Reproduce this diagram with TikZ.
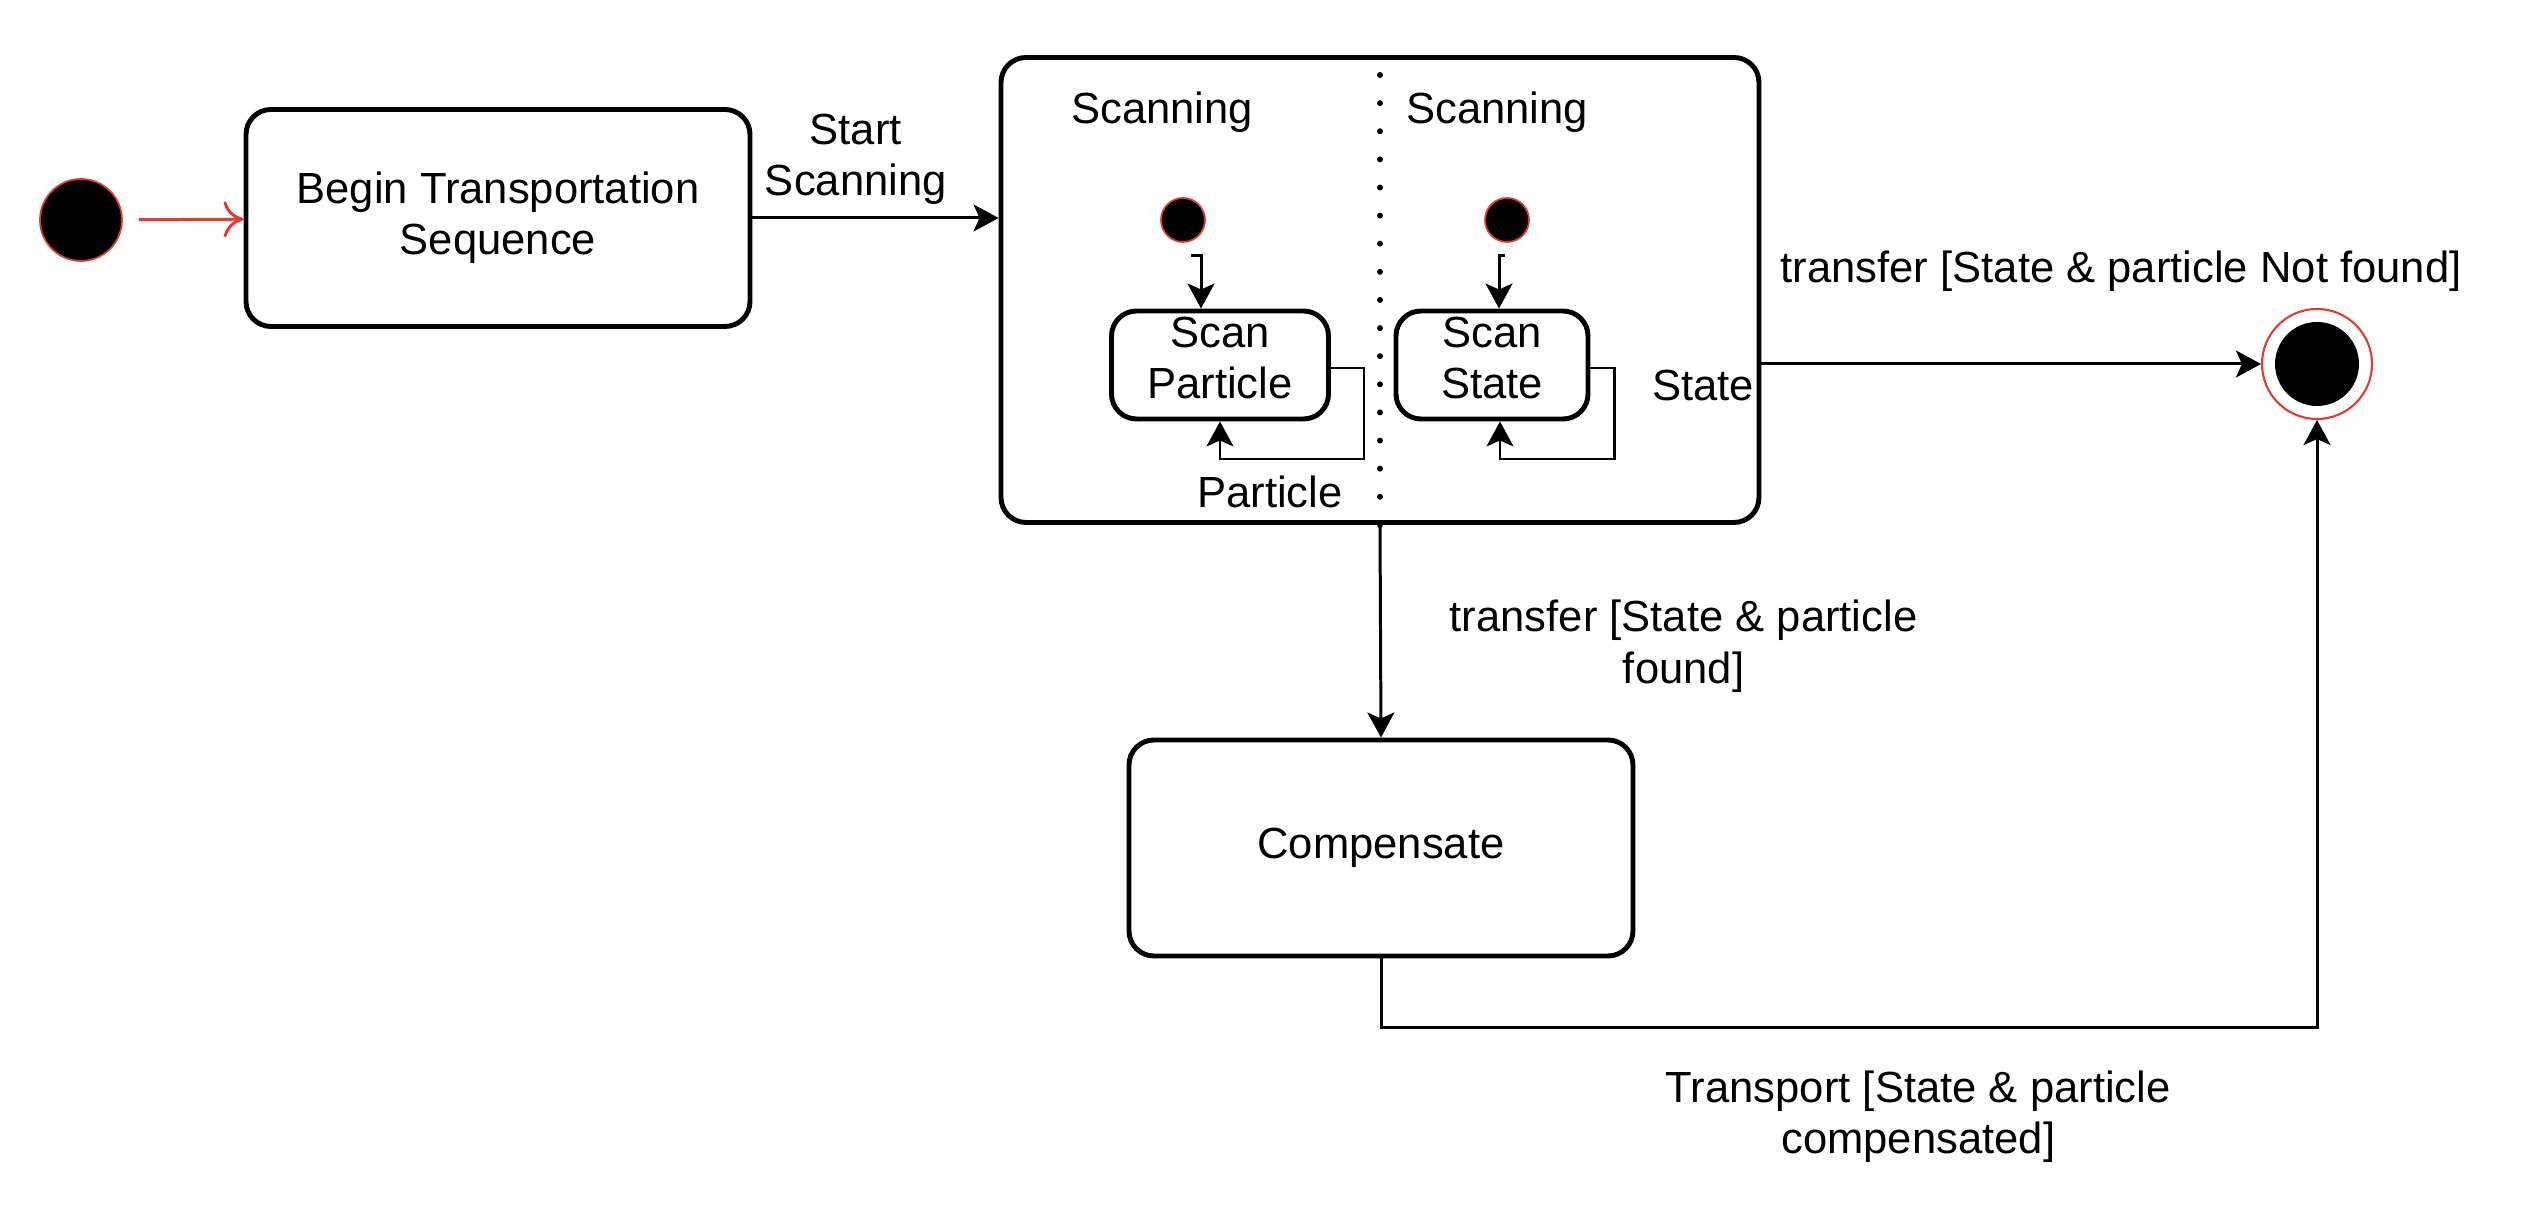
\documentclass[tikz,border=0pt]{standalone}
\usepackage{fontspec}
\setmainfont{Liberation Sans}
\usetikzlibrary{arrows.meta}
\definecolor{umlred}{RGB}{225,60,50}

\begin{document}
\begin{tikzpicture}[auto,
    every node/.style={font=\fontsize{12.4pt}{14.6pt}\selectfont},
    state/.style={draw, line width=1.4pt, rounded corners=0.25cm, align=center},
    start/.style={circle, fill=black, draw=umlred, line width=0.5pt, inner sep=0pt},
    trans/.style={-{Stealth[length=0.25cm, width=0.27cm, inset=0.06cm]}, line width=0.85pt},
    selfloop/.style={trans, line width=0.6pt}]

    \useasboundingbox (0, 0) rectangle (25.4, 12.3);

    \node [start, minimum size=0.82cm] (a) at (0.81, 10.10) {};
    \node [state, minimum width=5.04cm, minimum height=2.17cm] (b) at (4.98, 10.12) {Begin Transportation\\Sequence};
    \node [state, minimum width=7.58cm, minimum height=4.65cm] (c) at (13.80, 9.40) {};
    \node (d) at (11.62, 11.18) {Scanning};
    \node (e) at (14.97, 11.18) {Scanning};
    \node [start, minimum size=0.44cm] (f) at (11.83, 10.10) {};
    \node [start, minimum size=0.44cm] (g) at (15.07, 10.10) {};
    \node [state, inner sep=0pt, minimum width=2.17cm, minimum height=1.08cm] (h) at (12.20, 8.65) {\raisebox{2pt}[\height][\depth]{Scan}\\\raisebox{2pt}[\height][\depth]{Particle}};
    \node [state, inner sep=0pt, minimum width=1.92cm, minimum height=1.08cm] (i) at (14.92, 8.65) {\raisebox{2pt}[\height][\depth]{Scan}\\\raisebox{2pt}[\height][\depth]{State}};
    \node (j) at (12.70, 7.38) {Particle};
    \node (k) at (17.03, 8.44) {State};
    \node [circle, draw=umlred, line width=0.6pt, minimum size=1.1cm,
        path picture={\fill (path picture bounding box.center) circle (0.42cm);}] (l) at (23.17, 8.66) {};
    \node [state, minimum width=5.04cm, minimum height=2.16cm] (m) at (13.81, 3.82) {Compensate};

    \draw [dash pattern=on 0pt off 8pt, line cap=round, line width=1.7pt] ([yshift=-0.2cm]c.north) -- (c.south);

    \draw [-{To[length=0.2cm, width=0.36cm]}, umlred, line width=0.85pt, shorten <=0.16cm] (a) to (b);
    \draw [trans] (b.east) to node [align=center, pos=0.42] {Start\\Scanning} (b.east -| c.west);
    \draw [trans] ([xshift=0.08cm, yshift=-0.13cm]f.south) -| ([xshift=-0.19cm]h.north);
    \draw [trans] ([xshift=-0.02cm, yshift=-0.13cm]g.south) -| ([xshift=0.07cm]i.north);
    \draw [selfloop] ([yshift=-0.03cm]h.east) -- ++(0.33, 0) -- ++(0, -0.91) -| (h.south);
    \draw [selfloop] ([yshift=-0.03cm]i.east) -- ++(0.24, 0) -- ++(0, -0.91) -| ([xshift=0.08cm]i.south);
    \draw [trans] (c.east |- l) to node [pos=0.72, above=0.59cm] {transfer [State \& particle Not found]} (l);
    \draw [trans] (c.south) to node [align=center, pos=0.57, right=0.56cm] {transfer [State \& particle\\found]} (m.north);
    \draw [trans] (m.south) -- ++(0, -0.69) -| node [align=center, pos=0.287, below=0.3cm] {Transport [State \& particle\\compensated]} (l.south);

\end{tikzpicture}
\end{document}
